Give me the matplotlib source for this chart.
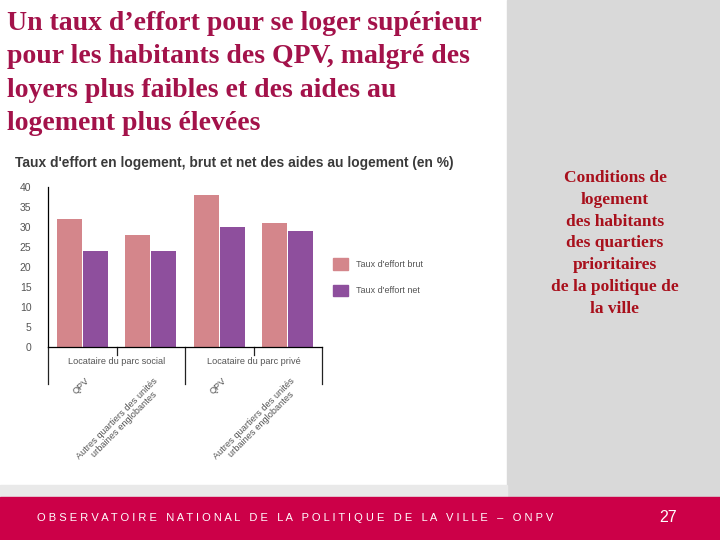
import matplotlib
matplotlib.use("Agg")
import matplotlib.pyplot as plt
from matplotlib.patches import Rectangle, Patch

# data
pairs = ["QPV", "Autres quartiers des unités\nurbaines englobantes",
         "QPV", "Autres quartiers des unités\nurbaines englobantes"]
groups = ["Locataire du parc social", "Locataire du parc privé"]
brut = [32, 28, 38, 31]
net = [24, 24, 30, 29]
yticks = [0, 5, 10, 15, 20, 25, 30, 35, 40]

PINK = "#d4868b"
PURPLE = "#8e4f9d"
GREY = "#555555"
NARROW = ["Liberation Sans Narrow", "Liberation Sans", "DejaVu Sans"]

W, H = 720, 540
fig = plt.figure(figsize=(7.2, 5.4), dpi=100)
fig.patch.set_facecolor("white")

# slide background
fig.patches.append(Rectangle((507 / W, 43 / H), 1 - 507 / W, 1 - 43 / H,
                             transform=fig.transFigure, color="#d9d9d9", zorder=0))
fig.patches.append(Rectangle((0, 43 / H), 507 / W, 12 / H,
                             transform=fig.transFigure, color="#e9e9e9", zorder=0))
fig.patches.append(Rectangle((0, 0), 1, 43 / H,
                             transform=fig.transFigure, color="#cc0048", zorder=0))

fig.text(7 / W, 1 - 11 / H,
         "Un taux d’effort pour se loger supérieur\npour les habitants des QPV, malgré des\n"
         "loyers plus faibles et des aides au\nlogement plus élevées",
         family="Liberation Serif", weight="bold", fontsize=20, color="#a3124a",
         ha="left", va="top", linespacing=1.44)

fig.text(615 / W, 1 - 170 / H,
         "Conditions de\nlogement\ndes habitants\ndes quartiers\nprioritaires\n"
         "de la politique de\nla ville",
         family="Liberation Serif", weight="bold", fontsize=12.5, color="#a8101c",
         ha="center", va="top", linespacing=1.48)

footer = "   ".join(" ".join(w) for w in
                      "OBSERVATOIRE NATIONAL DE LA POLITIQUE DE LA VILLE – ONPV".split(" "))
fig.text(37 / W, 22 / H, footer, family="Liberation Sans", fontsize=8,
         color="white", ha="left", va="center")
fig.text(668 / W, 23 / H, "27", family=NARROW, fontsize=11.5,
         color="white", ha="center", va="center")

fig.text(15 / W, 1 - 163 / H,
         "Taux d'effort en logement, brut et net des aides au logement (en %)",
         family="Liberation Sans", weight="bold", fontsize=9.9, color="#3a3a3a",
         ha="left", va="center")

# chart
ax = fig.add_axes([48 / W, 193 / H, 274 / W, 160 / H])
x = list(range(len(brut)))
ax.bar([i - 0.19 for i in x], brut, width=0.37, color=PINK, label="Taux d'effort brut")
ax.bar([i + 0.19 for i in x], net, width=0.37, color=PURPLE, label="Taux d'effort net")
ax.set_xlim(-0.5, 3.5)
ax.set_ylim(0, 40)
ax.set_yticks(yticks)
ax.set_yticklabels([str(v) for v in yticks], family=NARROW, fontsize=7.5, color=GREY)
ax.tick_params(axis="y", which="major", length=0, pad=12)
ax.set_yticks([0, 5, 15, 25, 35], minor=True)
ax.tick_params(axis="y", which="minor", length=4, width=0.8, color="#222222")
ax.set_xticks([])
for s in ["top", "right"]:
    ax.spines[s].set_visible(False)
ax.spines["left"].set_linewidth(0.9)
ax.spines["bottom"].set_linewidth(0.9)

trans = ax.get_xaxis_transform()
for xd in [-0.5, 1.5, 3.5]:
    ax.plot([xd, xd], [0, -0.232], transform=trans, color="#222222", lw=0.9,
            clip_on=False)
for xd in [0.5, 2.5]:
    ax.plot([xd, xd], [0, -0.05], transform=trans, color="#222222", lw=0.9,
            clip_on=False)
for g, name in enumerate(groups):
    ax.text(0.5 + 2 * g, -0.09, name, transform=trans, family=NARROW, fontsize=6.6,
            color=GREY, ha="center", va="center")
for i, name in enumerate(pairs):
    ax.text(i + 0.04, -0.18, name, transform=trans, family=NARROW, fontsize=6.7,
            color=GREY, ha="right", va="top", rotation=45,
            rotation_mode="anchor", linespacing=1.0, multialignment="center")

handles = [Patch(color=PINK), Patch(color=PURPLE)]
leg = fig.legend(handles, ["Taux d'effort brut", "Taux d'effort net"],
                 loc="upper left", bbox_to_anchor=(325 / W, 1 - 250 / H),
                 frameon=False, handlelength=1.6, handleheight=1.6,
                 labelspacing=1.65, handletextpad=0.9,
                 prop={"family": NARROW, "size": 6.5})
for t in leg.get_texts():
    t.set_color(GREY)

fig.savefig("out.png", dpi=100)
